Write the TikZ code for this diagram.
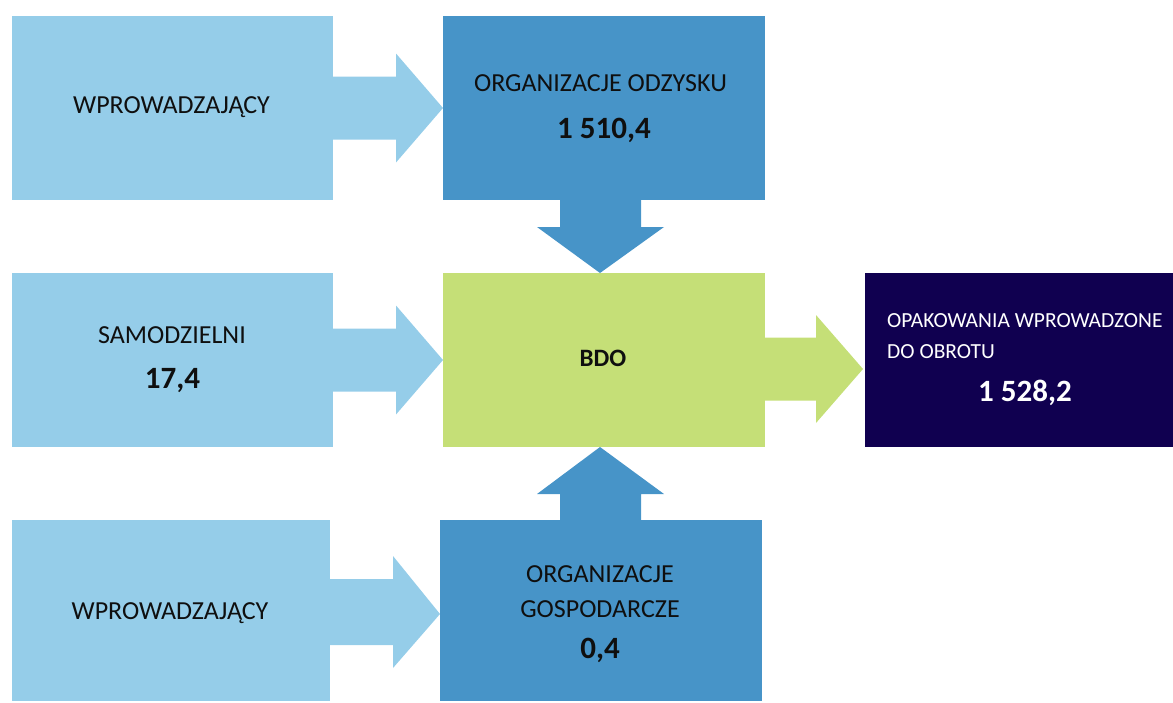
\documentclass[tikz,border=0pt]{standalone}
\usepackage{fontspec}
\setmainfont{Carlito}
\usetikzlibrary{calc}
\definecolor{lb}{RGB}{149,205,233}
\definecolor{mb}{RGB}{71,148,200}
\definecolor{gr}{RGB}{197,223,119}
\definecolor{nv}{RGB}{16,0,80}
\definecolor{tx}{RGB}{15,15,15}
\tikzset{
  box/.style={inner sep=0pt, outer sep=0pt, draw=none},
  lbox/.style={box, fill=lb},
  mbox/.style={box, fill=mb},
  txt/.style={inner sep=0pt, anchor=base, text=tx, font=\fontsize{26}{30}\selectfont},
  num/.style={inner sep=0pt, anchor=base, text=tx, font=\fontsize{31}{36}\selectfont\bfseries},
  wtxt/.style={inner sep=0pt, anchor=base west, text=white, font=\fontsize{21.5}{26}\selectfont},
}
\begin{document}
\begin{tikzpicture}[x=1pt,y=-1pt]
\useasboundingbox (0,0) rectangle (1173,702);
% boxes
\node[lbox, minimum width=321pt, minimum height=184pt] (w1) at (172.5,108) {};
\node[mbox, minimum width=322pt, minimum height=184pt] (oo) at (604,108) {};
\node[lbox, minimum width=321pt, minimum height=174pt] (sam) at (172.5,360) {};
\node[box, fill=gr, minimum width=322pt, minimum height=174pt] (bdo) at (604,360) {};
\node[box, fill=nv, minimum width=308pt, minimum height=174pt] (op) at (1019,360) {};
\node[lbox, minimum width=318pt, minimum height=181pt] (w2) at (171,610.5) {};
\node[mbox, minimum width=322pt, minimum height=181pt] (og) at (601,610.5) {};
% arrows
\fill[lb] ($(w1.east)+(0,-31.5)$) -- ($(oo.west)+(-47,-31.5)$) -- ($(oo.west)+(-47,-54.5)$)
  -- (oo.west) -- ($(oo.west)+(-47,54.5)$) -- ($(oo.west)+(-47,31.5)$) -- ($(w1.east)+(0,31.5)$) -- cycle;
\fill[lb] ($(sam.east)+(0,-31.5)$) -- ($(bdo.west)+(-47,-31.5)$) -- ($(bdo.west)+(-47,-54.5)$)
  -- (bdo.west) -- ($(bdo.west)+(-47,54.5)$) -- ($(bdo.west)+(-47,31.5)$) -- ($(sam.east)+(0,31.5)$) -- cycle;
\fill[lb] ($(w2.east)+(0,-31.5)$) -- ($(og.west)+(-47,-31.5)$) -- ($(og.west)+(-47,-54.5)$)
  -- ($(og.west)+(0,3.5)$) -- ($(og.west)+(-47,57.5)$) -- ($(og.west)+(-47,34.5)$) -- ($(w2.east)+(0,34.5)$) -- cycle;
\coordinate (gtip) at ($(op.west)+(-2,9)$);
\fill[gr] ($(bdo.east)+(0,-22.5)$) -- ($(gtip)+(-47,-31.5)$) -- ($(gtip)+(-47,-54)$)
  -- (gtip) -- ($(gtip)+(-47,54)$) -- ($(gtip)+(-47,31.5)$) -- ($(bdo.east)+(0,40.5)$) -- cycle;
\coordinate (dtip) at ($(bdo.north)+(-4,0)$);
\fill[mb] ($(oo.south)+(-44,0)$) -- ($(dtip)+(-40,-46)$) -- ($(dtip)+(-63,-46)$)
  -- (dtip) -- ($(dtip)+(64,-46)$) -- ($(dtip)+(41,-46)$) -- ($(oo.south)+(37,0)$) -- cycle;
\coordinate (utip) at ($(bdo.south)+(-4,0)$);
\fill[mb] ($(og.north)+(-41,0)$) -- ($(utip)+(-40,47)$) -- ($(utip)+(-63,47)$)
  -- (utip) -- ($(utip)+(64,47)$) -- ($(utip)+(41,47)$) -- ($(og.north)+(40,0)$) -- cycle;
% texts
\node[txt] (t1) at (171.5,113) {WPROWADZAJĄCY};
\node[txt] (t2) at (600.5,91) {ORGANIZACJE ODZYSKU};
\node[num] (t3) at (604,138) {1 510,4};
\node[txt] (t4) at (172,343) {SAMODZIELNI};
\node[num] (t5) at (172.5,388) {17,4};
\node[txt, font=\fontsize{25}{30}\selectfont\bfseries] (t6) at (603,366) {BDO};
\node[wtxt] (t7) at (887,327) {OPAKOWANIA WPROWADZONE};
\node[wtxt] (t8) at (887,358) {DO OBROTU};
\node[num, text=white] (t9) at (1025,401) {1 528,2};
\node[txt] (t10) at (600,582) {ORGANIZACJE};
\node[txt] (t11) at (600,617) {GOSPODARCZE};
\node[num] (t12) at (600,658) {0,4};
\node[txt] (t13) at (170,619) {WPROWADZAJĄCY};
\end{tikzpicture}
\end{document}
